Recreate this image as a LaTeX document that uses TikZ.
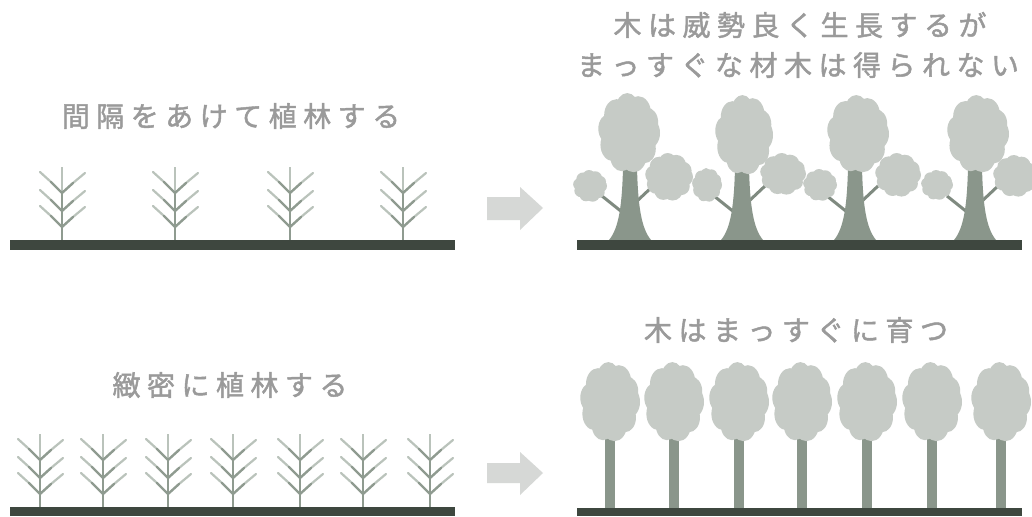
\documentclass[tikz,border=0pt]{standalone}
\usepackage{fontspec}
\newfontfamily\jp[FakeBold=1.6]{Noto Sans CJK JP}
\makeatletter
% spread the characters of a caption evenly
\newcommand\spreadtext[1]{{\def\sp@sep{}\@tfor\sp@ch:=#1\do{\sp@sep\sp@ch\def\sp@sep{\hspace{6.5pt}}}}}
\makeatother

\definecolor{txt}{HTML}{9A9A9A}
\definecolor{ground}{HTML}{3E473F}
\definecolor{leaf}{HTML}{C6CBC6}
\definecolor{bark}{HTML}{8A968B}
\definecolor{twig}{HTML}{7F8A80}
\definecolor{sprout}{HTML}{8F9B90}
\definecolor{sproutlight}{HTML}{BAC3BB}
\definecolor{arrowgray}{HTML}{D6D8D6}

\tikzset{
  caption/.style={inner sep=0pt, text=txt, font=\jp\fontsize{28}{32}\selectfont},
  soil/.style={fill=ground},
  % young planted seedling, origin at its foot
  seedling/.pic={
    \draw[sproutlight, line width=2.2pt] (0,-45) -- (0,-73);
    \draw[sprout, line width=2.6pt] (0,0) -- (0,-47);
    \foreach \v in {-47,-29,-13} {
      \draw[sproutlight, line width=2.2pt, line cap=round] (-22,\v-21) -- (-11,\v-11);
      \draw[sproutlight, line width=2.2pt, line cap=round] (11,\v-10) -- (23,\v-20);
      \draw[sprout, line width=2.4pt, line cap=round] (-11,\v-11) -- (0,\v) -- (11,\v-10);
    }
  },
  % bumpy foliage of unit radius
  blob/.pic={
    \fill[leaf] (0,0) circle [radius=0.72];
    \foreach \a/\r in {0/0.40, 38/0.36, 75/0.42, 112/0.37, 150/0.41, 190/0.38, 228/0.40, 265/0.36, 300/0.41, 335/0.37} {
      \pgfmathsetmacro\d{1-\r}
      \fill[leaf] (\a:\d) circle [radius=\r];
    }
  },
  % broad trunk with two side branches, origin at its foot
  oldtrunk/.pic={
    \draw[twig, line width=3pt] (-8,-28) -- (-28,-44);
    \draw[twig, line width=3pt] (6,-38) -- (23,-54);
    \fill[bark] (-21,0) .. controls (-11,-12) and (-8,-35) .. (-7,-72)
      -- (7,-72) .. controls (8,-35) and (11,-12) .. (21,0) -- cycle;
  },
  % slender straight tree, origin at its foot
  straighttree/.pic={
    \fill[bark] (-5,0) rectangle (5,-70);
    \pic[xscale=30, yscale=40] at (0,-106) {blob};
  },
}

\begin{document}
\begin{tikzpicture}[x=1pt, y=-1pt]
  \useasboundingbox (0,0) rectangle (1032,516);
  \fill[white] (0,0) rectangle (1032,516);
  \begin{scope}
    \clip (0,0) rectangle (1032,516);

    % --- sparse planting ---
    \node[caption] (sparsetitle) at (231,116) {\spreadtext{間隔をあけて植林する}};
    \foreach \x in {62,175,290,403} \pic at (\x,240) {seedling};
    \fill[soil] (10,240) rectangle (455,250);

    % --- vigorous but crooked growth ---
    \node[caption] (crookedA) at (800,25) {\spreadtext{木は威勢良く生長するが}};
    \node[caption] (crookedB) at (798,65) {\spreadtext{まっすぐな材木は得られない}};
    \foreach \x in {630,742,855,975} \pic at (\x,240) {oldtrunk};
    % main crowns
    \pic[xscale=31, yscale=40] at (629,133) {blob};
    \pic[xscale=29, yscale=40] at (744,135) {blob};
    \pic[xscale=31, yscale=39] at (858,134) {blob};
    \pic[xscale=31, yscale=39] at (978,134) {blob};
    % side crowns
    \pic[xscale=17, yscale=16] at (590,186) {blob};
    \pic[xscale=24, yscale=24] at (669,177) {blob};
    \pic[xscale=15, yscale=17] at (707,185) {blob};
    \pic[xscale=23, yscale=21] at (783,174) {blob};
    \pic[xscale=17, yscale=16] at (820,185) {blob};
    \pic[xscale=23, yscale=22] at (898,175) {blob};
    \pic[xscale=16, yscale=15] at (937,185) {blob};
    \pic[xscale=22, yscale=21] at (1015,176) {blob};
    \fill[soil] (577,240) rectangle (1022,250);

    % --- dense planting ---
    \node[caption] (densetitle) at (230,385) {\spreadtext{緻密に植林する}};
    \foreach \x in {40,103,168,233,300,363,430} \pic at (\x,507) {seedling};
    \fill[soil] (10,507) rectangle (455,516);

    % --- straight growth ---
    \node[caption] (straighttitle) at (796,330) {\spreadtext{木はまっすぐに育つ}};
    \foreach \x in {610,674,739,802,867,932,1001} \pic at (\x,508) {straighttree};
    \fill[soil] (577,508) rectangle (1022,516);

    % --- block arrows between stages ---
    \fill[arrowgray] (487,197) -- (520,197) -- (520,187) -- (543,208)
      -- (520,230) -- (520,220) -- (487,220) -- cycle;
    \fill[arrowgray] (487,463) -- (520,463) -- (520,452) -- (543,473)
      -- (520,495) -- (520,483) -- (487,483) -- cycle;
  \end{scope}
\end{tikzpicture}
\end{document}
